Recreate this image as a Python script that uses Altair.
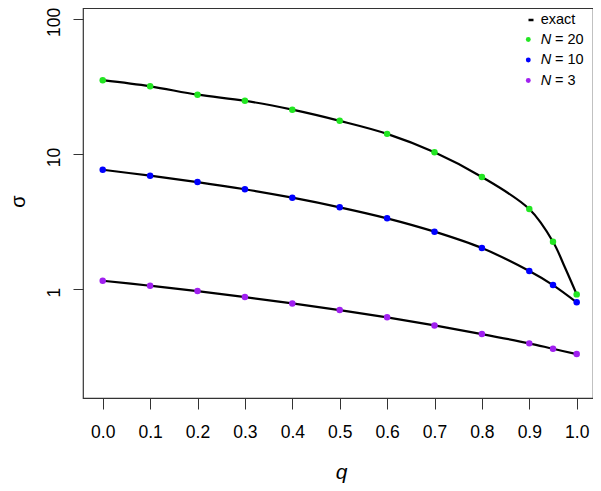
import altair as alt
import pandas as pd

# ---------------- data ----------------
q_values = [0.0, 0.1, 0.2, 0.3, 0.4, 0.5, 0.6, 0.7, 0.8, 0.9, 0.95, 1.0]
sigma_n20 = [35.2, 31.7, 27.5, 24.8, 21.3, 17.6, 14.1, 10.3, 6.76, 3.91, 2.24, 0.913]
sigma_n10 = [7.65, 6.91, 6.20, 5.48, 4.75, 4.03, 3.34, 2.66, 2.01, 1.36, 1.07, 0.797]
sigma_n3 = [1.152, 1.058, 0.966, 0.872, 0.783, 0.699, 0.617, 0.538, 0.464, 0.396, 0.361, 0.330]

# exact curves
exact_q_n20 = [0.0, 0.1, 0.2, 0.3, 0.4, 0.5, 0.6, 0.7, 0.8, 0.9, 0.95, 0.975, 1.0]
exact_n20 = [35.2, 31.7, 27.5, 24.8, 21.3, 17.6, 14.1, 10.3, 6.76, 3.91, 2.24, 1.45, 0.913]
exact_q = [0.0, 0.1, 0.2, 0.3, 0.4, 0.5, 0.6, 0.7, 0.8, 0.9, 0.95, 1.0]
exact_n10 = [7.65, 6.91, 6.20, 5.48, 4.75, 4.03, 3.34, 2.66, 2.01, 1.36, 1.07, 0.797]
exact_n3 = [1.152, 1.058, 0.966, 0.872, 0.783, 0.699, 0.617, 0.538, 0.464, 0.396, 0.361, 0.330]

series_names = ["N = 20", "N = 10", "N = 3"]
series_colors = ["#22e622", "#0000ff", "#a020f0"]
legend_numbers = ["= 20", "= 10", "= 3"]

x_ticks = [0.0, 0.1, 0.2, 0.3, 0.4, 0.5, 0.6, 0.7, 0.8, 0.9, 1.0]
y_ticks = [1, 10, 100]

# ---------------- tables ----------------
pts = pd.concat([
    pd.DataFrame({"q": q_values, "sigma": sigma_n20, "series": series_names[0], "order": 0}),
    pd.DataFrame({"q": q_values, "sigma": sigma_n10, "series": series_names[1], "order": 1}),
    pd.DataFrame({"q": q_values, "sigma": sigma_n3, "series": series_names[2], "order": 2}),
], ignore_index=True)

lines = pd.concat([
    pd.DataFrame({"q": exact_q_n20, "sigma": exact_n20, "curve": "n20"}),
    pd.DataFrame({"q": exact_q, "sigma": exact_n10, "curve": "n10"}),
    pd.DataFrame({"q": exact_q, "sigma": exact_n3, "curve": "n3"}),
], ignore_index=True)

FONT = "Liberation Sans"

x_enc = alt.X(
    "q:Q",
    scale=alt.Scale(domain=[-0.0416, 1.0344], nice=False, zero=False),
    axis=alt.Axis(
        values=x_ticks, format=".1f", labelFontSize=17.5, labelFont=FONT,
        labelColor="black", tickSize=11, tickColor="#333", labelPadding=14,
        domain=False, grid=False, labelFlush=False, labelOverlap=False,
        title="q", titleFont=FONT, titleFontSize=21, titleFontStyle="italic",
        titleFontWeight="normal", titleColor="black",
        titleX=258, titleY=80, titleAlign="center", titleBaseline="alphabetic",
    ),
)
y_enc = alt.Y(
    "sigma:Q",
    scale=alt.Scale(type="log", domain=[0.156, 120.6], nice=False),
    axis=alt.Axis(
        values=y_ticks, format="~g", labelFontSize=17.5, labelFont=FONT,
        labelColor="black", labelAngle=270, labelAlign="center",
        labelBaseline="alphabetic", labelPadding=14, labelOffset=3, tickSize=10,
        tickColor="#333", domain=False, grid=False, labelOverlap=False,
        title="σ", titleFont=FONT, titleFontSize=20, titleFontWeight="normal",
        titleColor="black", titleAngle=270, titleX=-59, titleY=193,
        titleAlign="center", titleBaseline="alphabetic",
    ),
)

line_layer = alt.Chart(lines).mark_line(
    color="black", strokeWidth=2.2, interpolate="catmull-rom"
).encode(x=x_enc, y=y_enc, detail="curve:N", order="q:Q")

point_layer = alt.Chart(pts).mark_circle(size=42, opacity=1).encode(
    x="q:Q", y="sigma:Q",
    color=alt.Color("series:N", scale=alt.Scale(domain=series_names, range=series_colors), legend=None),
    order="order:Q",
)

# ---------------- manual legend (top-right, inside the box) ----------------
row_y = [12, 31.5, 52, 72.5]
one = pd.DataFrame({"k": [0]})
legend_layers = [
    alt.Chart(one).mark_rule(color="black", strokeWidth=2.5).encode(
        x=alt.value(445.5), x2=alt.value(450.5), y=alt.value(row_y[0])),
    alt.Chart(one).mark_text(text="exact", align="left", baseline="middle",
                             font=FONT, fontSize=14.5, color="black").encode(
        x=alt.value(457.7), y=alt.value(row_y[0])),
]
for i in range(3):
    yy = row_y[i + 1]
    legend_layers += [
        alt.Chart(one).mark_circle(size=24, opacity=1, color=series_colors[i]).encode(
            x=alt.value(445.3), y=alt.value(yy)),
        alt.Chart(one).mark_text(text="N", align="left", baseline="middle", font=FONT,
                                 fontSize=14.5, fontStyle="italic", color="black").encode(
            x=alt.value(457.7), y=alt.value(yy)),
        alt.Chart(one).mark_text(text=legend_numbers[i], align="left", baseline="middle",
                                 font=FONT, fontSize=14.5, color="black").encode(
            x=alt.value(472), y=alt.value(yy)),
    ]

chart = alt.layer(line_layer, point_layer, *legend_layers).properties(
    width=510, height=390,
    autosize=alt.AutoSizeParams(type="none"),
    padding={"left": 75, "top": 0, "right": 0, "bottom": 85},
).configure_view(stroke="#333", strokeWidth=1.2)

chart.save("out.html", embed_options={"renderer": "svg", "actions": False})
